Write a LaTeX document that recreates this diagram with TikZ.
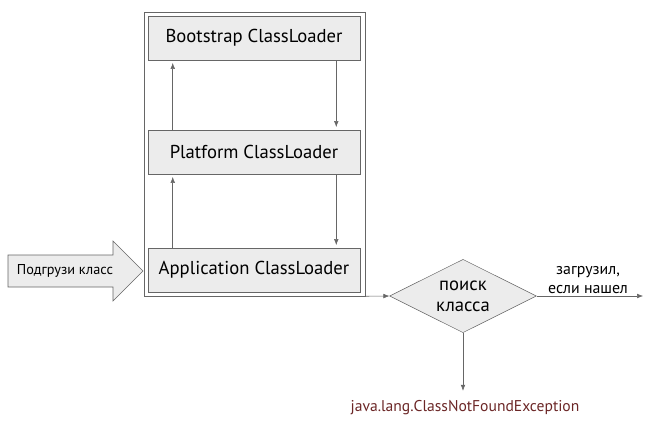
\documentclass[tikz,border=0pt]{standalone}
\usepackage{fontspec}
\setmainfont{PT Sans}
\usetikzlibrary{positioning,arrows.meta,calc,shapes.geometric}
\usepackage{xcolor}

\definecolor{errred}{HTML}{6B2626}

\begin{document}
\begin{tikzpicture}[x=0.75pt, y=-0.75pt, font=\fontsize{14}{16}\selectfont,
    loader/.style={draw=gray!80!black, fill=gray!15, minimum width=159pt, minimum height=33pt},
    decision/.style={diamond, draw=gray!80!black, fill=gray!15, aspect=2, inner sep=0pt,
        minimum width=110pt, minimum height=55pt, align=center},
    link/.style={draw=gray!80!black, -{Latex[length=4.5pt,width=3.5pt]}}]

\useasboundingbox (0,0) rectangle (652,436);

% Frame around the loaders
\node[draw=gray!80!black, minimum width=165.75pt, minimum height=213pt] (frame) at (254.5,154) {};

% Three class loaders, top to bottom
\foreach \name/\label/\y in {boot/Bootstrap/38, plat/Platform/152, app/Application/270} {
    \node[loader] (\name) at (254,\y) {\label\ ClassLoader};
}

% Delegation up, answers down
\foreach \lo/\hi in {plat/boot, app/plat} {
    \draw[link, shorten >=2pt] ($(\lo.north west)+(25,0)$) -- ($(\hi.south west)+(25,0)$);
    \draw[link, shorten >=2pt] ($(\hi.south east)+(-24,0)$) -- ($(\lo.north east)+(-24,0)$);
}

% Request arrow
\draw[draw=gray!80!black, fill=gray!15] (8,255) -- (113,255) -- (113,241) -- (143,271)
    -- (113,301) -- (113,287) -- (8,287) -- cycle;
\node[font=\fontsize{10.7}{13}\selectfont] (ask) at (65,271) {Подгрузи класс};

% Search for the class
\node[decision] (search) at (463,296) {поиск\\класса};
\draw[link] (frame.south east) -- (search.west);

\coordinate (done) at (643,296);
\draw[link] (search.east) -- (done);
\node[align=center, font=\fontsize{11.9}{14}\selectfont] (loaded) at (588,280) {загрузил,\\если нашел};

\node[text=errred, font=\fontsize{11.7}{14}\selectfont] (fail) at (465,408) {java.lang.ClassNotFoundException};
\draw[link, shorten >=4pt] (search.south) -- (search.south |- fail.north);

\end{tikzpicture}
\end{document}
